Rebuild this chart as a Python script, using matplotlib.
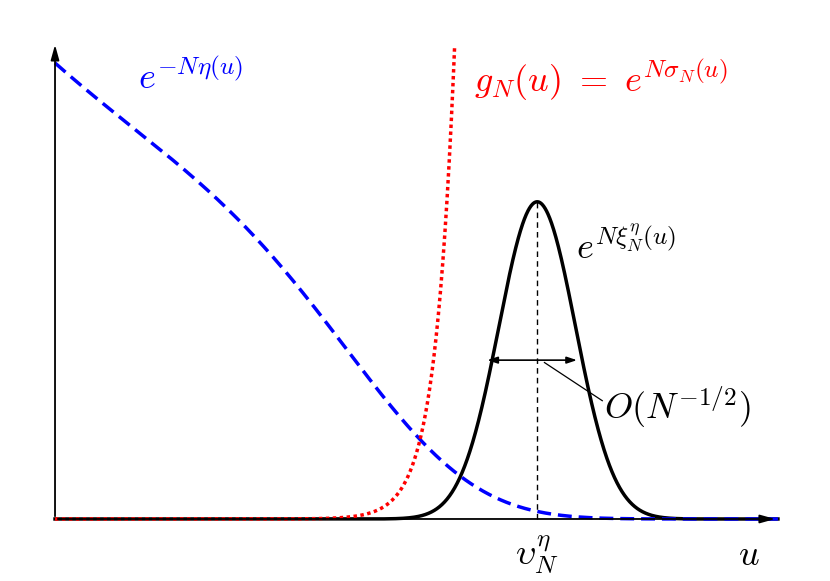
import numpy as np
import matplotlib
matplotlib.use("Agg")
import matplotlib.pyplot as plt

plt.rcParams['mathtext.fontset'] = 'cm'

# schematic parameters (in axis units)
blue_amp, blue_a, blue_b = 0.956, 0.14, 0.0016
peak_u, peak_h, peak_sigma = 6.67, 0.665, 0.53
red_u1, red_k = 5.53, 3.73
half_y = 0.333
u_max_axis, y_max_axis = 10.0, 1.0

fig = plt.figure(figsize=(8.3, 5.81), dpi=100)
ax = fig.add_axes([0, 0, 1, 1])
ax.set_xlim(-0.761, 10.72)
ax.set_ylim(-0.13, 1.088)
ax.axis('off')

u = np.linspace(0, u_max_axis, 2000)
blue = blue_amp * np.exp(-blue_a * u - blue_b * u ** 4)
black = peak_h * np.exp(-0.5 * ((u - peak_u) / peak_sigma) ** 2)
red = np.exp(red_k * (u - red_u1))
ur = u[red <= 1.0]; red = red[red <= 1.0]

ax.annotate('', xy=(u_max_axis, 0), xytext=(0, 0),
            arrowprops=dict(arrowstyle='-|>,head_length=0.9,head_width=0.25', color='black', lw=1.3))
ax.annotate('', xy=(0, y_max_axis), xytext=(0, 0),
            arrowprops=dict(arrowstyle='-|>,head_length=0.9,head_width=0.25', color='black', lw=1.3))

ax.plot(u, black, color='black', lw=2.5)
ax.plot(u, blue, color='blue', lw=2.5, ls=(0, (4, 2)))
ax.plot(ur, red, color='red', lw=2.5, ls=(0, (1, 1)))

ax.plot([peak_u, peak_u], [0, peak_h], color='black', lw=1, ls=(0, (4, 3)))
ax.annotate('', xy=(peak_u - 0.69, half_y), xytext=(peak_u + 0.55, half_y),
            arrowprops=dict(arrowstyle='<|-|>,head_length=0.6,head_width=0.2', color='black', lw=1.2, shrinkA=0, shrinkB=0))
ax.plot([peak_u + 0.1, peak_u + 0.9], [half_y - 0.005, half_y - 0.085], color='black', lw=0.9)

fs = 26
ax.text(1.15, 0.925, r'$e^{-N\eta(u)}$', color='blue', fontsize=fs, va='center')
ax.text(5.8, 0.92, r'$g_N(u)\ =\ e^{N\sigma_N(u)}$', color='red', fontsize=fs, va='center')
ax.text(7.2, 0.57, r'$e^{N\xi^\eta_N(u)}$', color='black', fontsize=fs, va='center')
ax.text(7.6, 0.235, r'$O(N^{-1/2})$', color='black', fontsize=fs, va='center')
ax.text(peak_u, -0.075, r'$\upsilon^\eta_N$', color='black', fontsize=fs, ha='center', va='center')
ax.text(9.6, -0.075, r'$u$', color='black', fontsize=fs, ha='center', va='center')

fig.savefig('out.png', dpi=100)
